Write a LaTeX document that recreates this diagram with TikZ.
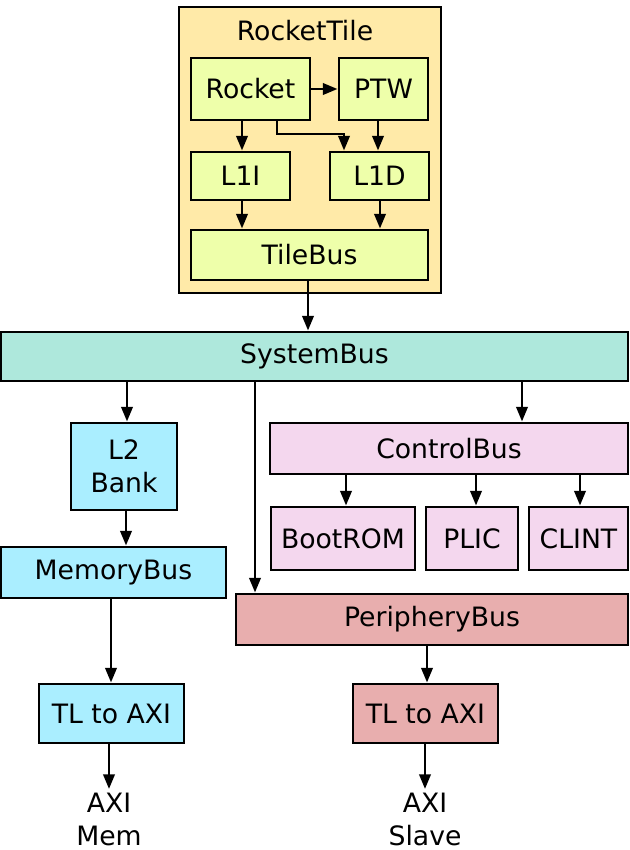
\documentclass[tikz,border=0pt]{standalone}
\usepackage{fontspec}
\setmainfont{DejaVu Sans}
\usetikzlibrary{fit,arrows.meta}
\definecolor{tilebg}{HTML}{FFEAA8}
\definecolor{cgreen}{HTML}{EEFFAA}
\definecolor{csys}{HTML}{AEE8DC}
\definecolor{cmem}{HTML}{AAEEFF}
\definecolor{cctl}{HTML}{F4D7EE}
\definecolor{cper}{HTML}{E8AEAE}
\begin{document}
\begin{tikzpicture}[x=0.75pt,y=-0.75pt, font=\fontsize{20}{24.5}\selectfont,
  box/.style={draw=black, line width=2.2pt, inner sep=0pt},
  arr/.style={line width=2pt, -{Triangle[length=11pt,width=8.5pt]}},
  txt/.style={align=center, inner sep=3pt, anchor=north}]
\useasboundingbox (0,0) rectangle (630,850);
% RocketTile
\node[box, fill=tilebg, fit={(179,7) (441,293)}] (tile) {};
\node (tilelbl) at (305,31) {RocketTile};
\node[box, fill=cgreen, fit={(191,58) (310,120)}] (rocket) {};
\node (rocketl) at (rocket.center) {Rocket};
\node[box, fill=cgreen, fit={(339,58) (428,120)}] (ptw) {};
\node (ptwl) at (ptw.center) {PTW};
\node[box, fill=cgreen, fit={(191,152) (290,200)}] (l1i) {};
\node (l1il) at (l1i.center) {L1I};
\node[box, fill=cgreen, fit={(330,152) (429,200)}] (l1d) {};
\node (l1dl) at (l1d.center) {L1D};
\node[box, fill=cgreen, fit={(191,230) (428,280)}] (tilebus) {};
\node (tilebusl) at (tilebus.center) {TileBus};
\draw[arr] (rocket.east |- 0,89) -- (ptw.west |- 0,89);
\draw[arr] (242,0 |- rocket.south) -- (242,0 |- l1i.north);
\draw[arr] (277,0 |- rocket.south) -- (277,134) -- (344,134) -- (344,0 |- l1d.north);
\draw[arr] (378,0 |- ptw.south) -- (378,0 |- l1d.north);
\draw[arr] (242,0 |- l1i.south) -- (242,0 |- tilebus.north);
\draw[arr] (380,0 |- l1d.south) -- (380,0 |- tilebus.north);
% SystemBus
\node[box, fill=csys, fit={(1,332) (628,381)}] (sys) {};
\node (sysl) at (sys.center) {SystemBus};
\draw[arr] (308,0 |- tilebus.south) -- (308,0 |- sys.north);
% Memory side
\node[box, fill=cmem, fit={(71,423) (177,510)}] (l2) {};
\node[align=center] (l2l) at (l2.center) {L2\\Bank};
\node[box, fill=cmem, fit={(1,547) (226,598)}] (membus) {};
\node (membusl) at (membus.center) {MemoryBus};
\node[box, fill=cmem, fit={(39,684) (184,743)}] (tlm) {};
\node (tlml) at (tlm.center) {TL to AXI};
\node[txt] (axim) at (109,789) {AXI\\Mem};
\draw[arr] (127,0 |- sys.south) -- (127,0 |- l2.north);
\draw[arr] (126,0 |- l2.south) -- (126,0 |- membus.north);
\draw[arr] (111,0 |- membus.south) -- (111,0 |- tlm.north);
\draw[arr] (109,0 |- tlm.south) -- (axim.north);
% Control side
\node[box, fill=cctl, fit={(270,423) (628,474)}] (ctl) {};
\node (ctll) at (ctl.center) {ControlBus};
\node[box, fill=cctl, fit={(271,507) (415,570)}] (boot) {};
\node (bootl) at (boot.center) {BootROM};
\node[box, fill=cctl, fit={(426,507) (518,570)}] (plic) {};
\node (plicl) at (plic.center) {PLIC};
\node[box, fill=cctl, fit={(529,507) (628,570)}] (clint) {};
\node (clintl) at (clint.center) {CLINT};
\draw[arr] (522,0 |- sys.south) -- (522,0 |- ctl.north);
\draw[arr] (346,0 |- ctl.south) -- (346,0 |- boot.north);
\draw[arr] (476,0 |- ctl.south) -- (476,0 |- plic.north);
\draw[arr] (580,0 |- ctl.south) -- (580,0 |- clint.north);
% Periphery side
\node[box, fill=cper, fit={(236,594) (628,645)}] (per) {};
\node (perl) at (per.center) {PeripheryBus};
\node[box, fill=cper, fit={(353,684) (498,743)}] (tlp) {};
\node (tlpl) at (tlp.center) {TL to AXI};
\node[txt] (axis) at (425,789) {AXI\\Slave};
\draw[arr] (255,0 |- sys.south) -- (255,0 |- per.north);
\draw[arr] (427,0 |- per.south) -- (427,0 |- tlp.north);
\draw[arr] (425,0 |- tlp.south) -- (axis.north);
\end{tikzpicture}
\end{document}
